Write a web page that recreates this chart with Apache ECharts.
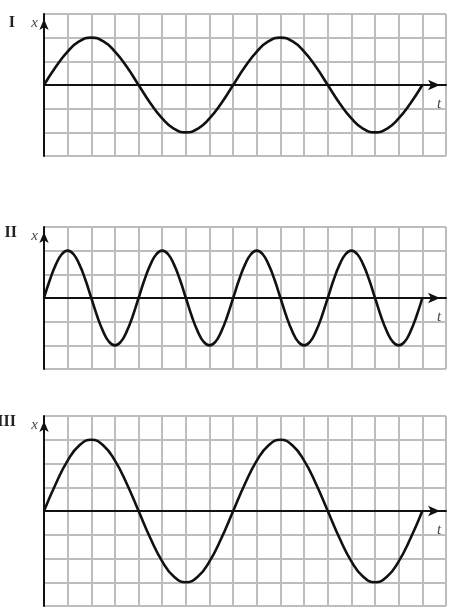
<!DOCTYPE html>
<html>
<head>
<meta charset="utf-8">
<script src="https://cdn.jsdelivr.net/npm/echarts@6/dist/echarts.min.js"></script>
<style>
html,body{margin:0;padding:0;background:#fff;}
#chart{width:456px;height:608px;}
</style>
</head>
<body>
<div id="chart"></div>
<script>
// Panel labels
var panelLabels = ['I', 'II', 'III'];
// Time samples (grid cells)
var tHalf = [0,0.5,1,1.5,2,2.5,3,3.5,4,4.5,5,5.5,6,6.5,7,7.5,8,8.5,9,9.5,10,10.5,11,11.5,12,12.5,13,13.5,14,14.5,15,15.5,16];
var tQuarter = [0,0.25,0.5,0.75,1,1.25,1.5,1.75,2,2.25,2.5,2.75,3,3.25,3.5,3.75,4,4.25,4.5,4.75,5,5.25,5.5,5.75,6,6.25,6.5,6.75,7,7.25,7.5,7.75,8,8.25,8.5,8.75,9,9.25,9.5,9.75,10,10.25,10.5,10.75,11,11.25,11.5,11.75,12,12.25,12.5,12.75,13,13.25,13.5,13.75,14,14.25,14.5,14.75,15,15.25,15.5,15.75,16];
// Displacement values (grid cells)
var xI = [0,0.77,1.41,1.85,2,1.85,1.41,0.77,0,-0.77,-1.41,-1.85,-2,-1.85,-1.41,-0.77,0,0.77,1.41,1.85,2,1.85,1.41,0.77,0,-0.77,-1.41,-1.85,-2,-1.85,-1.41,-0.77,0];
var xII = [0,0.77,1.41,1.85,2,1.85,1.41,0.77,0,-0.77,-1.41,-1.85,-2,-1.85,-1.41,-0.77,
           0,0.77,1.41,1.85,2,1.85,1.41,0.77,0,-0.77,-1.41,-1.85,-2,-1.85,-1.41,-0.77,
           0,0.77,1.41,1.85,2,1.85,1.41,0.77,0,-0.77,-1.41,-1.85,-2,-1.85,-1.41,-0.77,
           0,0.77,1.41,1.85,2,1.85,1.41,0.77,0,-0.77,-1.41,-1.85,-2,-1.85,-1.41,-0.77,0];
var xIII = [0,1.15,2.12,2.77,3,2.77,2.12,1.15,0,-1.15,-2.12,-2.77,-3,-2.77,-2.12,-1.15,0,1.15,2.12,2.77,3,2.77,2.12,1.15,0,-1.15,-2.12,-2.77,-3,-2.77,-2.12,-1.15,0];
// Axis ranges
var tMax = 17;
var xRanges = [[-3, 3], [-3, 3], [-4, 4]];

function pairs(ts, xs){ return ts.map(function(t,i){ return [t, xs[i]]; }); }
var seriesData = [pairs(tHalf, xI), pairs(tQuarter, xII), pairs(tHalf, xIII)];

var gridPos = [
  {left:44, top:14, width:402, height:142},
  {left:44, top:227, width:402, height:142},
  {left:44, top:416, width:402, height:190}
];
var labelTops = [15, 225, 414];
var labelRights = [441, 439, 440];

var serif = "'Liberation Serif', 'DejaVu Serif', serif";
var gridLine = {show:true, lineStyle:{color:'#bdbdbd', width:2}};

var option = {
  animation:false,
  backgroundColor:'#fff',
  title: panelLabels.map(function(l,i){
    return {text:l, right:labelRights[i], top:labelTops[i], padding:0,
      textStyle:{fontFamily:serif, fontSize:16, fontWeight:'bold', color:'#222'}};
  }),
  grid: gridPos,
  xAxis: gridPos.map(function(g,i){
    return {type:'value', gridIndex:i, min:0, max:tMax, interval:1,
      name:'t', nameLocation:'end', nameGap:-7,
      nameTextStyle:{fontFamily:serif, fontStyle:'italic', fontSize:15, color:'#445',
        align:'center', verticalAlign:'top', padding:[12,0,0,0]},
      axisLine:{show:true, onZero:true, symbol:['none','arrow'], symbolSize:[8,12], symbolOffset:[0,-6],
        lineStyle:{color:'#111', width:2}},
      axisTick:{show:false}, axisLabel:{show:false}, splitLine:gridLine};
  }),
  yAxis: gridPos.map(function(g,i){
    return {type:'value', gridIndex:i, min:xRanges[i][0], max:xRanges[i][1], interval:1,
      name:'x', nameLocation:'end', nameGap:-9,
      nameTextStyle:{fontFamily:serif, fontStyle:'italic', fontSize:15, color:'#444',
        align:'right', verticalAlign:'middle', padding:[0,6,0,0]},
      axisLine:{show:true, onZero:false, symbol:['none','arrow'], symbolSize:[7,11], symbolOffset:[0,-5],
        lineStyle:{color:'#111', width:2}},
      axisTick:{show:false}, axisLabel:{show:false}, splitLine:gridLine};
  }),
  series: seriesData.map(function(d,i){
    return {type:'line', xAxisIndex:i, yAxisIndex:i, data:d, smooth:true, symbol:'none',
      lineStyle:{color:'#111', width:2.6}, z:5};
  })
};
var chart = echarts.init(document.getElementById('chart'), null, {renderer:'canvas'});
chart.setOption(option);
</script>
</body>
</html>
